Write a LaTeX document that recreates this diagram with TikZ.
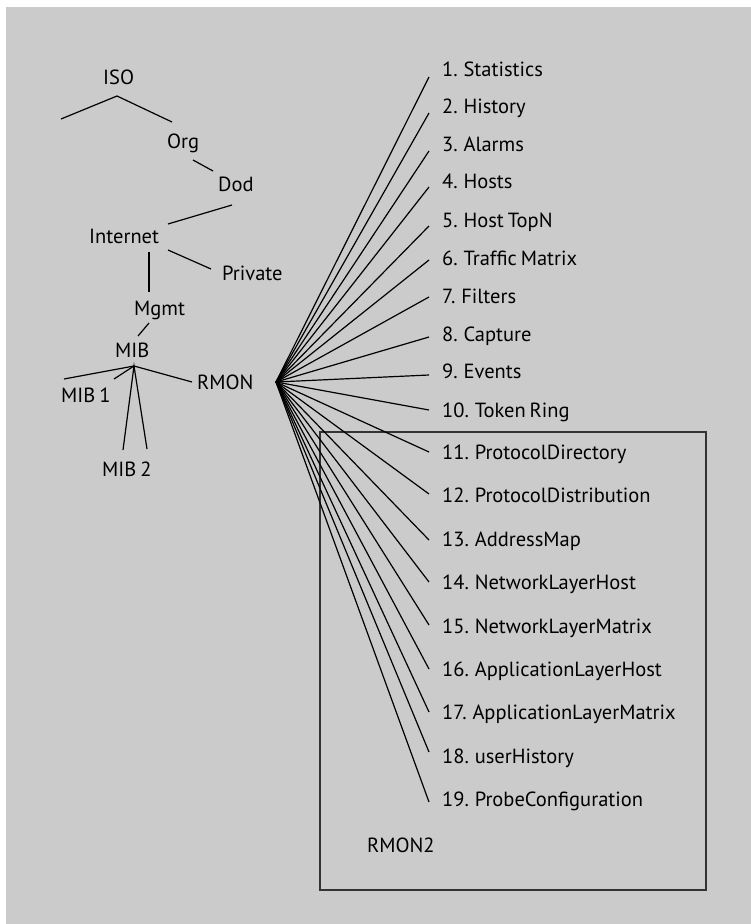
\documentclass[tikz,border=0pt]{standalone}
\usepackage{fontspec}
\setmainfont{PT Sans}
\definecolor{bg}{HTML}{CBCBCB}
\definecolor{boxc}{HTML}{333333}
\newcommand\lblfont{\fontsize{20.5}{24}\selectfont\spaceskip=4pt plus 1pt minus 1pt\relax}
\begin{document}
\begin{tikzpicture}[x=1pt,y=-1pt,
  lbl/.style={inner sep=0pt, anchor=base west, font=\lblfont},
  ln/.style={line width=1.2pt, black},
  boxline/.style={line width=1.2pt, draw=boxc}]
\useasboundingbox (0,0) rectangle (751,924);
\fill[white] (0,0) rectangle (751,924);
\fill[bg] (6,7) rectangle (751,924);

% tree labels
\node[lbl] (iso) at (103,84) {ISO};
\node[lbl] (org) at (167,148) {Org};
\node[lbl] (dod) at (218,191) {Dod};
\node[lbl] (internet) at (89,243) {Internet};
\node[lbl] (private) at (222,280) {Private};
\node[lbl] (mgmt) at (134,315) {Mgmt};
\node[lbl] (mib) at (115,357) {MIB};
\node[lbl] (rmon) at (197,389) {RMON};
\node[lbl] (mibone) at (61,402) {MIB 1};
\node[lbl] (mibtwo) at (102,476) {MIB 2};

% connector points
\coordinate (isoA) at (117,96);
\coordinate (isoL) at (61,119);
\coordinate (isoR) at (172,122);
\coordinate (orgD) at (193,160);
\coordinate (dodU) at (213,171);
\coordinate (dodD) at (232,205);
\coordinate (intU) at (168,224);
\coordinate (intM1) at (149,252);
\coordinate (mgmtU) at (149,292);
\coordinate (intP) at (168,250);
\coordinate (privU) at (211,269);
\coordinate (mgmtD) at (149,323);
\coordinate (mibU) at (138,336);
\coordinate (mibJ) at (134,366);
\coordinate (m1a) at (64,379);
\coordinate (m1b) at (114,379);
\coordinate (rmonL) at (192,382);
\coordinate (m2a) at (123,450);
\coordinate (m2b) at (147,449);

\draw[ln] (isoL) -- (isoA) -- (isoR);
\draw[ln] (orgD) -- (dodU);
\draw[ln] (dodD) -- (intU);
\draw[ln] (intM1) -- (mgmtU);
\draw[ln] (intP) -- (privU);
\draw[ln] (mgmtD) -- (mibU);
\draw[ln] (m1a) -- (mibJ) -- (rmonL);
\draw[ln] (m1b) -- (mibJ);
\draw[ln] (m2a) -- (mibJ) -- (m2b);

% RMON2 box
\draw[boxline] (320,432) rectangle (706,890);
\node[lbl] (rmontwo) at (367,852) {RMON2};

% fan
\coordinate (fan) at (276,382);
\foreach \i/\yb/\ye/\t in {
  1/76/77/{1. Statistics},
  2/113/113/{2. History},
  3/151/151/{3. Alarms},
  4/188/187/{4. Hosts},
  5/227/226/{5. Host TopN},
  6/265/260/{6. Traffic Matrix},
  7/303/297/{7. Filters},
  8/341/337/{8. Capture},
  9/378/375/{9. Events},
  10/417/410/{10. Token Ring},
  11/459/452/{11. ProtocolDirectory},
  12/502/494/{12. ProtocolDistribution},
  13/546/540/{13. AddressMap},
  14/589/582/{14. NetworkLayerHost},
  15/633/625/{15. NetworkLayerMatrix},
  16/676/669/{16. ApplicationLayerHost},
  17/719/712/{17. ApplicationLayerMatrix},
  18/763/752/{18. userHistory},
  19/806/802/{19. ProbeConfiguration}} {
  \node[lbl] (item\i) at (442,\yb) {\t};
  \coordinate (end\i) at (429,\ye);
  \draw[ln] (fan) -- (end\i);
}
\end{tikzpicture}
\end{document}
